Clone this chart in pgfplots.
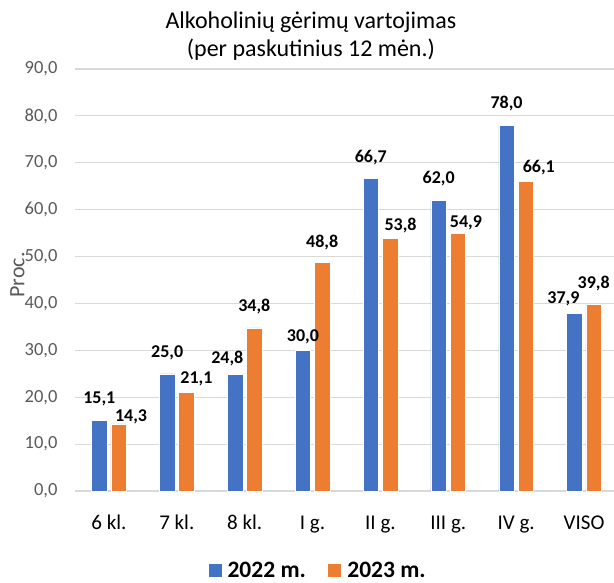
\documentclass[border=0pt]{standalone}
\usepackage{pgfplots}
\pgfplotsset{compat=1.18}
\usepackage{fontspec}
\setmainfont{Carlito}
\definecolor{cblue}{RGB}{68,114,196}
\definecolor{corange}{RGB}{237,125,49}
\definecolor{cgrid}{RGB}{217,217,217}
\definecolor{ctick}{RGB}{89,89,89}
\begin{document}
\begin{tikzpicture}
\path[use as bounding box] (-75pt,-91pt) rectangle (539pt,491pt);
\begin{axis}[
  scale only axis,
  width=543pt, height=422pt,
  ymin=0, ymax=90,
  ytick={0,10,...,90},
  xmin=-0.5, xmax=7.5,
  xtick={0,...,7},
  xticklabels={6 kl.,7 kl.,8 kl.,I g.,II g.,III g.,IV g.,VISO},
  xticklabel style={font=\fontsize{21}{24}\selectfont, text=black, anchor=base, yshift=-38.3pt},
  yticklabel style={font=\fontsize{18.5}{21}\selectfont, text=ctick, anchor=east, xshift=-14pt},
  /pgf/number format/assume math mode=true,
  yticklabel={\pgfmathprintnumber[fixed,fixed zerofill,precision=1,use comma,assume math mode=true]{\tick}},
  ymajorgrids, grid style={cgrid, line width=1.2pt},
  axis x line*=bottom, axis y line*=left,
  y axis line style={draw=none},
  x axis line style={cgrid, line width=1.2pt, -},
  major tick length=0pt,
  ylabel={Proc.},
  every axis y label/.style={at={(rel axis cs:0,0.512)}, xshift=-57.5pt, rotate=90, anchor=center,
    font=\fontsize{22}{24}\selectfont, text=ctick},
  ybar, bar width=15.5pt,
  clip=false,
  visualization depends on={\thisrow{dx}\as\mydx},
  visualization depends on={\thisrow{dy}\as\mydy},
  nodes near coords={\pgfmathprintnumber[fixed,fixed zerofill,precision=1,use comma,assume math mode=true]{\pgfplotspointmeta}},
  every node near coord/.append style={font=\bfseries\fontsize{18}{20}\selectfont, text=black, anchor=base, xshift=\mydx pt, yshift=\mydy pt},
  title={Alkoholinių gėrimų vartojimas\\(per paskutinius 12 mėn.)},
  title style={font=\fontsize{24}{28.5}\selectfont, align=center, at={(rel axis cs:0.4345,1)}, anchor=south, yshift=-1pt},
  legend style={at={(rel axis cs:0.4455,-0.188)}, anchor=center, draw=none, legend columns=2, inner sep=0pt,
    font=\bfseries\fontsize{23.5}{26}\selectfont,
    nodes={inner sep=0.5pt},
    /tikz/every odd column/.append style={column sep=5pt},
    /tikz/every even column/.append style={column sep=21pt}},
  legend image code/.code={\fill[#1] (0pt,-7pt) rectangle (14pt,7pt);},
]
\addplot[fill=cblue, draw=white, line width=0.5pt, bar shift=-9.65pt] table {
x y dx dy
0 15.1 0 17
1 25.0 0 16
2 24.8 -7.7 11
3 30.0 0 9
4 66.7 0 16
5 62.0 0 16.7
6 78.0 0 17
7 37.9 -11 9.4
};
\addplot[fill=corange, draw=white, line width=0.5pt, bar shift=9.65pt] table {
x y dx dy
0 14.3 12.5 2
1 21.1 10 9
2 34.8 0 16
3 48.8 0 15
4 53.8 10.5 8.7
5 54.9 8 6
6 66.1 13 8.4
7 39.8 0 16
};
\legend{2022 m.,2023 m.}
\end{axis}
\end{tikzpicture}
\end{document}
